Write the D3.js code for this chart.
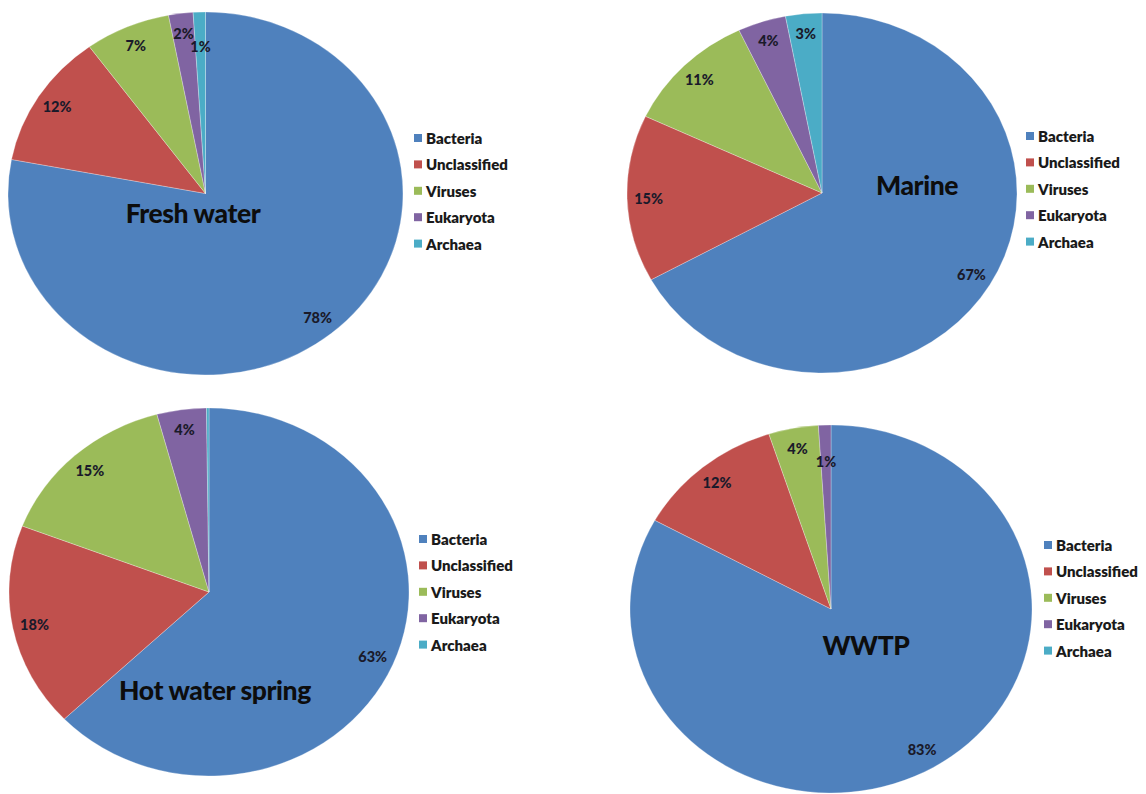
<!DOCTYPE html>
<html>
<head>
<meta charset="utf-8">
<script src="https://cdn.jsdelivr.net/npm/d3@7"></script>
<style>
  html, body { margin: 0; padding: 0; background: #fff; }
  svg { display: block; }
  text { font-family: Lato, "Open Sans", sans-serif; }
</style>
</head>
<body>
<svg id="chart" width="1146" height="794"></svg>
<script>
// Taxonomic composition of metagenomes from four environments (percent of reads)
const categories = ["Bacteria", "Unclassified", "Viruses", "Eukaryota", "Archaea"];
const sites = ["Fresh water", "Marine", "Hot water spring", "WWTP"];
const freshWater = [78, 12, 7, 2, 1];
const marine = [67, 15, 11, 4, 3];
const hotWaterSpring = [63, 18, 15, 4, 0.2];
const wwtp = [83, 12, 4, 1, 0];

const colors = ["#4F81BD", "#C0504D", "#9BBB59", "#8064A2", "#4BACC6"];
const color = d3.scaleOrdinal().domain(categories).range(colors);

// Placement of each panel: pie centre and radii, title anchor, legend anchor
const panels = [
  { site: sites[0], values: freshWater,     cx: 205.5, cy: 193.5, rx: 197.5, ry: 181.5, tx: 193, ty: 213, lx: 414,  ly: 138 },
  { site: sites[1], values: marine,         cx: 822,   cy: 193,   rx: 195,   ry: 180,   tx: 917, ty: 185, lx: 1026, ly: 136 },
  { site: sites[2], values: hotWaterSpring, cx: 209,   cy: 592,   rx: 200,   ry: 184,   tx: 215, ty: 690, lx: 419,  ly: 539 },
  { site: sites[3], values: wwtp,           cx: 831,   cy: 609,   rx: 201,   ry: 184,   tx: 866, ty: 645, lx: 1044, ly: 545 }
];

const svg = d3.select("#chart");
const pie = d3.pie().sort(null).value(d => d.value);
const labelFont = 14.5;

panels.forEach(p => {
  const data = categories.map((c, i) => ({ category: c, value: p.values[i] }));
  const arcs = pie(data);
  const g = svg.append("g").attr("transform", `translate(${p.cx},${p.cy})`);

  // slices: circular arc stretched into the ellipse of the panel
  const arc = d3.arc().innerRadius(0).outerRadius(p.ry);
  g.append("g")
    .attr("transform", `scale(${p.rx / p.ry},1)`)
    .selectAll("path")
    .data(arcs.filter(a => a.value > 0))
    .join("path")
    .attr("d", arc)
    .attr("fill", d => color(d.data.category))
    .attr("stroke", "rgba(255,255,255,0.35)")
    .attr("stroke-width", 0.8)
    .attr("vector-effect", "non-scaling-stroke");

  // percentage labels near the outer end of each slice, nudged inward on overlap
  const placed = [];
  arcs.forEach(a => {
    const txt = Math.round(a.value) + "%";
    if (Math.round(a.value) < 1) return;
    const mid = (a.startAngle + a.endAngle) / 2;
    const w = txt.length * 0.62 * labelFont;
    let k = 0.89, x, y;
    const pos = kk => [Math.sin(mid) * kk * p.rx, -Math.cos(mid) * kk * p.ry];
    for (; k > 0.5; k -= 0.01) {
      [x, y] = pos(k);
      const hit = placed.some(o => Math.abs(o.x - x) < (o.w + w) / 2 + 16 && Math.abs(o.y - y) < labelFont - 2);
      if (!hit) break;
    }
    placed.push({ x, y, w });
    g.append("text")
      .attr("x", x).attr("y", y)
      .attr("text-anchor", "middle")
      .attr("dominant-baseline", "central")
      .attr("font-size", labelFont)
      .attr("font-weight", 900)
      .attr("fill", "#1a1a2a")
      .text(txt);
  });

  // site name written over the pie
  svg.append("text")
    .attr("x", p.tx).attr("y", p.ty)
    .attr("text-anchor", "middle")
    .attr("dominant-baseline", "central")
    .attr("font-size", 26.5)
    .attr("font-weight", 900)
    .attr("letter-spacing", -0.4)
    .attr("fill", "#0d0d0d")
    .text(p.site);

  // legend
  const row = d3.scalePoint().domain(categories).range([0, 4 * 26.4]);
  const lg = svg.append("g").attr("transform", `translate(${p.lx},${p.ly})`);
  const items = lg.selectAll("g").data(categories).join("g")
    .attr("transform", d => `translate(0,${row(d)})`);
  items.append("rect")
    .attr("x", 0).attr("y", -4).attr("width", 8).attr("height", 8)
    .attr("fill", d => color(d));
  items.append("text")
    .attr("x", 12).attr("y", 0)
    .attr("dominant-baseline", "central")
    .attr("font-size", 15)
    .attr("font-weight", 800)
    .attr("fill", "#1a1a1a")
    .text(d => d);
});
</script>
</body>
</html>
